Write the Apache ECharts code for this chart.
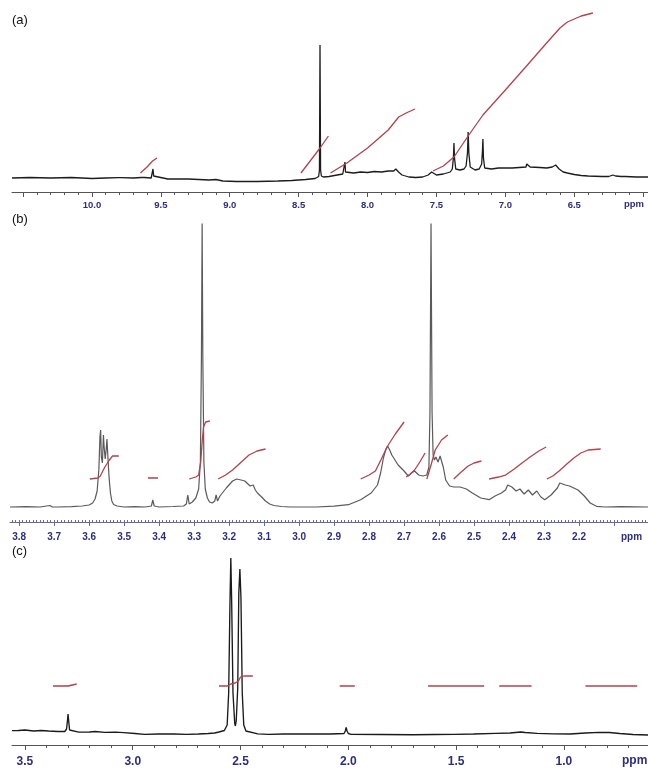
<!DOCTYPE html>
<html>
<head>
<meta charset="utf-8">
<script src="https://cdn.jsdelivr.net/npm/echarts@6/dist/echarts.min.js"></script>
<style>html,body{margin:0;padding:0;background:#fff;}#c{width:648px;height:770px;}</style>
</head>
<body>
<div id="c"></div>
<script>
// ---------- DATA: panel (a) ----------
const specA = [
[10.58,0],[10.45,0.5],[10.30,0],[10.15,0.5],[10.00,-0.5],[9.90,0],[9.81,0.3],[9.80,1.5],[9.79,0.3],[9.70,0],[9.64,0.5],[9.63,2],[9.62,0.5],[9.57,0],[9.562,2],[9.557,9],[9.552,2],[9.54,0],[9.45,-1],[9.30,-1],[9.15,-2],[9.10,-1.5],[9.05,-3],[8.95,-3.5],[8.80,-3.5],[8.65,-3],[8.55,-2.5],[8.45,-1.5],[8.38,-0.5],[8.355,1.5],[8.349,8],[8.345,133],[8.341,8],[8.335,2],[8.32,1],[8.28,1.5],[8.22,3],[8.18,4],[8.168,6],[8.164,16],[8.160,6],[8.15,4],[8.10,5],[8.05,6],[8.00,5.5],[7.95,6.5],[7.90,6],[7.85,7],[7.81,7],[7.795,9],[7.79,11],[7.785,9],[7.775,6],[7.75,3],[7.70,1],[7.65,0.5],[7.60,1],[7.56,3],[7.535,6],[7.525,4],[7.50,3],[7.45,4],[7.40,6],[7.385,9],[7.377,20],[7.373,35],[7.369,20],[7.36,9],[7.33,8],[7.30,9],[7.285,12],[7.275,25],[7.27,46],[7.265,25],[7.255,11],[7.22,8],[7.19,9],[7.172,14],[7.166,28],[7.163,39],[7.159,20],[7.15,10],[7.10,9],[7.05,10],[7.00,10],[6.95,10],[6.90,10.5],[6.85,11],[6.845,14],[6.84,16],[6.835,14],[6.82,11],[6.75,10.5],[6.70,10],[6.66,11],[6.635,13],[6.63,14],[6.625,13],[6.61,9],[6.58,6],[6.55,5],[6.50,3.5],[6.45,2.5],[6.40,2],[6.30,1.5],[6.25,1.5],[6.22,3],[6.20,2],[6.16,1.5],[6.15,3],[6.13,1.5],[6.05,1],[5.965,1]
];
const intA1 = [[9.648,5],[9.60,11],[9.56,17],[9.528,20]];
const intA2 = [[8.483,5],[8.40,20],[8.345,30],[8.284,42]];
const intA3 = [[8.269,5],[8.15,15],[8.00,30],[7.85,48],[7.774,61],[7.72,65],[7.656,69]];
const intA4 = [[7.525,7],[7.45,12],[7.373,21],[7.27,42],[7.163,63],[7.00,88],[6.84,113],[6.72,132],[6.604,150],[6.55,156],[6.45,162],[6.365,165]];
const labelsA = [10.0,9.5,9.0,8.5,8.0,7.5,7.0,6.5];
const majorA = [10.5,10.0,9.5,9.0,8.5,8.0,7.5,7.0,6.5,6.0];

// ---------- DATA: panel (b) ----------
const specB = [
[3.826,0],[3.78,0.3],[3.74,0],[3.712,1.5],[3.705,0],[3.70,1.2],[3.69,0],[3.65,0.3],[3.62,1],[3.60,2],[3.59,4],[3.583,8],[3.577,16],[3.572,38],[3.569,70],[3.567,77],[3.565,50],[3.562,44],[3.559,72],[3.557,60],[3.554,48],[3.551,58],[3.549,68],[3.547,55],[3.543,30],[3.539,14],[3.535,6],[3.53,2.5],[3.52,1],[3.50,0],[3.47,0.3],[3.44,0],[3.422,1],[3.418,7],[3.414,1],[3.40,0],[3.36,0.5],[3.33,1],[3.322,3],[3.318,12],[3.314,3],[3.305,5],[3.295,9],[3.287,18],[3.282,45],[3.279,150],[3.277,284],[3.275,150],[3.272,45],[3.268,18],[3.262,9],[3.256,5],[3.248,4],[3.241,6],[3.237,12],[3.233,6],[3.226,11],[3.208,19],[3.19,26],[3.178,28],[3.166,27],[3.155,26],[3.149,24],[3.14,21],[3.131,22],[3.125,17],[3.119,14],[3.107,10],[3.096,6],[3.084,3],[3.072,1.5],[3.05,0.5],[3.025,0],[2.95,0],[2.90,0.8],[2.859,2.3],[2.824,7.3],[2.794,14],[2.776,22],[2.767,34],[2.759,49],[2.752,58],[2.747,61],[2.741,57],[2.735,52],[2.717,42],[2.70,36],[2.688,31],[2.679,34],[2.67,36],[2.658,32],[2.646,31],[2.635,32],[2.629,40],[2.626,95],[2.623,284],[2.620,95],[2.617,52],[2.613,47],[2.609,50],[2.603,45],[2.597,51],[2.593,46],[2.588,40],[2.581,27],[2.57,21],[2.558,20],[2.54,20],[2.522,18],[2.505,14],[2.481,9],[2.457,7.3],[2.44,11],[2.422,14],[2.41,17],[2.404,22],[2.40,24],[2.392,20],[2.38,16],[2.369,18],[2.357,13],[2.345,17],[2.333,12],[2.321,16],[2.309,10],[2.298,7.3],[2.28,12],[2.262,19],[2.255,24],[2.25,26],[2.239,22],[2.227,21],[2.215,19],[2.203,17],[2.185,11],[2.168,4],[2.15,0.7],[2.126,0],[2.08,0.3],[2.003,0]
];
const intB1 = [[3.598,28],[3.575,29],[3.568,31],[3.555,40],[3.542,47],[3.533,51],[3.515,51]];
const intB2 = [[3.432,29],[3.403,29]];
const intB3 = [[3.314,28],[3.295,30],[3.287,32],[3.281,45],[3.277,65],[3.273,80],[3.267,85],[3.255,86]];
const intB4 = [[3.231,28],[3.21,32],[3.19,37],[3.165,45],[3.143,52],[3.12,56],[3.096,58]];
const intB5 = [[2.824,28],[2.80,32],[2.782,36],[2.765,48],[2.747,61],[2.725,73],[2.70,85]];
const intB6 = [[2.694,30],[2.682,33],[2.670,37],[2.655,45],[2.640,54]];
const intB7 = [[2.635,28],[2.629,35],[2.623,42],[2.611,57],[2.593,67],[2.575,72]];
const intB8 = [[2.558,28],[2.54,34],[2.517,41],[2.50,44],[2.479,46]];
const intB9 = [[2.457,28],[2.43,30],[2.41,32],[2.385,38],[2.363,44],[2.34,50],[2.315,56],[2.294,60]];
const intB10 = [[2.292,28],[2.275,31],[2.257,36],[2.235,43],[2.215,49],[2.195,54],[2.174,57],[2.138,58]];
const labelsB = [3.8,3.7,3.6,3.5,3.4,3.3,3.2,3.1,3.0,2.9,2.8,2.7,2.6,2.5,2.4,2.3,2.2];
const majorB = [3.8,3.7,3.6,3.5,3.4,3.3,3.2,3.1,3.0,2.9,2.8,2.7,2.6,2.5,2.4,2.3,2.2,2.1];

// ---------- DATA: panel (c) ----------
const specC = [
[3.56,2.3],[3.53,2.5],[3.50,3],[3.46,2],[3.424,2.5],[3.39,2],[3.347,1.5],[3.315,1.5],[3.307,4],[3.302,14],[3.300,19],[3.297,12],[3.293,3],[3.285,1],[3.25,0.8],[3.20,1],[3.175,1.5],[3.13,0.7],[3.08,0.8],[3.041,0.3],[2.99,-0.5],[2.945,-1.3],[2.88,-1],[2.81,-1],[2.75,-1.3],[2.696,-1],[2.65,-0.5],[2.62,0],[2.60,1],[2.575,2.5],[2.562,8],[2.555,40],[2.549,130],[2.545,175],[2.541,130],[2.535,40],[2.527,10],[2.524,7],[2.52,12],[2.513,45],[2.508,140],[2.503,164],[2.498,135],[2.492,40],[2.485,8],[2.475,2],[2.466,0],[2.42,-0.8],[2.37,-1.3],[2.30,-1],[2.20,-1],[2.083,-1],[2.02,-0.5],[2.014,2],[2.010,5.5],[2.006,2],[2.0,-0.5],[1.987,-1.3],[1.85,-1.5],[1.70,-1.7],[1.60,-1.5],[1.508,-1.3],[1.42,-1],[1.316,-0.3],[1.25,0],[1.20,1],[1.192,1.5],[1.18,0.5],[1.124,-0.3],[1.05,-0.8],[0.971,-1],[0.90,0],[0.837,0.7],[0.79,0.5],[0.741,-0.5],[0.68,-1.5],[0.61,-2]
];
const intC1 = [[3.37,47],[3.30,47],[3.28,48],[3.26,49]];
const intC2 = [[2.60,47],[2.56,47],[2.545,49],[2.525,50],[2.51,52],[2.50,56],[2.485,57],[2.443,57]];
const intC3 = [[2.04,47],[1.97,47]];
const intC4 = [[1.63,47],[1.37,47]];
const intC5 = [[1.30,47],[1.15,47]];
const intC6 = [[0.90,47],[0.66,47]];
const labelsC = [3.5,3.0,2.5,2.0,1.5,1.0];
const majorC = [3.5,3.0,2.5,2.0,1.5,1.0];

// ---------- helpers ----------
function steps(from, to, step) {
  const out = [];
  const n = Math.round((from - to) / step);
  for (let i = 0; i <= n; i++) out.push(Math.round((from - i * step) * 1000) / 1000);
  return out;
}
const minorA = steps(10.5, 6.0, 0.1);
const minorB = steps(3.82, 2.0, 0.01);
const minorC = steps(3.5, 0.7, 0.1);

const NAVY = '#2d2d82';
const AXC = '#555';
const RED = '#b0434c';

function mainAxis(grid, min, max, major, labels, fs, margin, len, col) {
  return {
    type: 'value', gridIndex: grid, min: min, max: max, inverse: true, position: 'bottom',
    axisLine: { show: true, onZero: false, lineStyle: { color: col, width: 1 } },
    axisTick: { show: true, customValues: major, length: len, lineStyle: { color: col, width: 1 } },
    axisLabel: { show: true, customValues: labels, formatter: v => Number(v).toFixed(1),
      color: NAVY, fontWeight: 'bold', fontSize: fs, margin: margin, fontFamily: 'Liberation Sans' },
    splitLine: { show: false }
  };
}
function minorAxis(grid, min, max, minor, len, inside, col) {
  return {
    type: 'value', gridIndex: grid, min: min, max: max, inverse: true, position: 'bottom',
    axisLine: { show: false, onZero: false },
    axisTick: { show: true, inside: inside, customValues: minor, length: len, lineStyle: { color: col, width: 1 } },
    axisLabel: { show: false }, splitLine: { show: false }
  };
}
function line(data, xi, yi, color, w) {
  return { type: 'line', data: data, xAxisIndex: xi, yAxisIndex: yi, showSymbol: false, symbol: 'none',
    lineStyle: { color: color, width: w }, silent: true, animation: false, z: color === RED ? 3 : 2 };
}

const option = {
  backgroundColor: '#fff',
  animation: false,
  grid: [
    { left: 12, right: 0, top: 8, height: 184 },
    { left: 10, right: 0, top: 224, height: 298 },
    { left: 12, right: 0, top: 552, height: 193 }
  ],
  xAxis: [
    mainAxis(0, 5.965, 10.58, majorA, labelsA, 9.5, 8, 5, AXC),
    minorAxis(0, 5.965, 10.58, minorA, 3, false, AXC),
    mainAxis(1, 2.003, 3.826, majorB, labelsB, 10, 10, 4, '#6a6a98'),
    minorAxis(1, 2.003, 3.826, minorB, 2, true, '#6a6a98'),
    mainAxis(2, 0.61, 3.56, majorC, labelsC, 12, 11, 5, AXC),
    minorAxis(2, 0.61, 3.56, minorC, 3, false, AXC)
  ],
  yAxis: [
    { type: 'value', gridIndex: 0, min: -14, max: 170, show: false },
    { type: 'value', gridIndex: 1, min: -15, max: 283, show: false },
    { type: 'value', gridIndex: 2, min: -12, max: 181, show: false }
  ],
  series: [
    line(specA, 0, 0, '#1c1c1c', 1.3),
    line(intA1, 0, 0, RED, 1.3), line(intA2, 0, 0, RED, 1.3), line(intA3, 0, 0, RED, 1.3), line(intA4, 0, 0, RED, 1.3),
    line(specB, 2, 1, '#5a5a5a', 1.2),
    line(intB1, 2, 1, RED, 1.3), line(intB2, 2, 1, RED, 1.3), line(intB3, 2, 1, RED, 1.3), line(intB4, 2, 1, RED, 1.3),
    line(intB5, 2, 1, RED, 1.3), line(intB6, 2, 1, RED, 1.3), line(intB7, 2, 1, RED, 1.3), line(intB8, 2, 1, RED, 1.3),
    line(intB9, 2, 1, RED, 1.3), line(intB10, 2, 1, RED, 1.3),
    line(specC, 4, 2, '#1a1a1a', 1.35),
    line(intC1, 4, 2, RED, 1.3), line(intC2, 4, 2, RED, 1.3), line(intC3, 4, 2, RED, 1.3),
    line(intC4, 4, 2, RED, 1.3), line(intC5, 4, 2, RED, 1.3), line(intC6, 4, 2, RED, 1.3)
  ],
  graphic: [
    { type: 'text', left: 12, top: 14, style: { text: '(a)', fontSize: 13, fill: '#111', fontFamily: 'Liberation Sans' } },
    { type: 'text', left: 12, top: 213, style: { text: '(b)', fontSize: 13, fill: '#111', fontFamily: 'Liberation Sans' } },
    { type: 'text', left: 12, top: 545, style: { text: '(c)', fontSize: 13, fill: '#111', fontFamily: 'Liberation Sans' } },
    { type: 'text', left: 624, top: 199, style: { text: 'ppm', fontSize: 9.5, fontWeight: 'bold', fill: NAVY, fontFamily: 'Liberation Sans' } },
    { type: 'text', left: 621, top: 532, style: { text: 'ppm', fontSize: 10, fontWeight: 'bold', fill: NAVY, fontFamily: 'Liberation Sans' } },
    { type: 'text', left: 622, top: 755, style: { text: 'ppm', fontSize: 12, fontWeight: 'bold', fill: NAVY, fontFamily: 'Liberation Sans' } }
  ]
};
const chart = echarts.init(document.getElementById('c'), null, { renderer: 'canvas' });
chart.setOption(option);
</script>
</body>
</html>
